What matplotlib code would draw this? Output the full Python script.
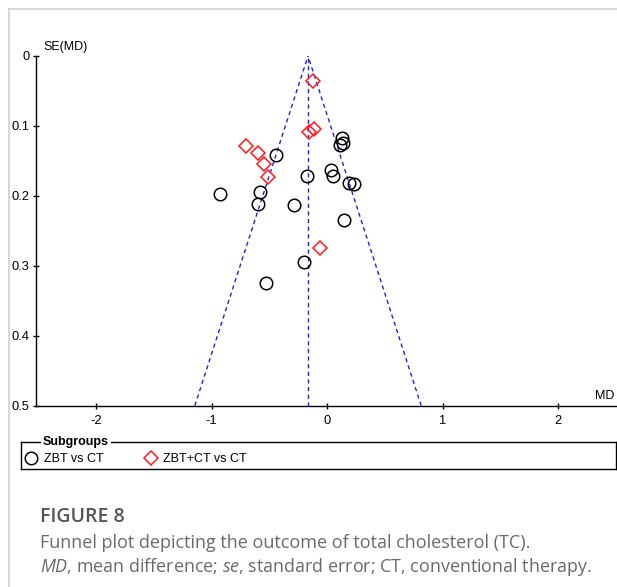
import matplotlib
matplotlib.use("Agg")
import matplotlib.pyplot as plt
from matplotlib.lines import Line2D

plt.rcParams['font.family'] = ['Liberation Sans', 'DejaVu Sans']
plt.rcParams['axes.unicode_minus'] = False
plt.rcParams['mathtext.fontset'] = 'custom'
plt.rcParams['mathtext.it'] = 'Open Sans:italic'
plt.rcParams['mathtext.rm'] = 'Open Sans'

# study estimates
zbt_md = [-0.93, -0.58, -0.60, -0.44, -0.29, -0.17, -0.20, -0.53,
          0.13, 0.14, 0.11, 0.03, 0.05, 0.19, 0.23, 0.15]
zbt_se = [0.198, 0.195, 0.211, 0.141, 0.213, 0.171, 0.295, 0.325,
          0.117, 0.124, 0.127, 0.163, 0.172, 0.181, 0.183, 0.235]

combo_md = [-0.12, -0.16, -0.11, -0.70, -0.60, -0.55, -0.51, -0.06]
combo_se = [0.036, 0.108, 0.105, 0.128, 0.138, 0.155, 0.173, 0.274]

pooled_md = -0.165
se_max = 0.5

x_ticks = [-2, -1, 0, 1, 2]
y_ticks = [0, 0.1, 0.2, 0.3, 0.4, 0.5]
y_labels = ['0', '0.1', '0.2', '0.3', '0.4', '0.5']

W, H = 617, 587
fig = plt.figure(figsize=(W / 100, H / 100), dpi=100)

# outer frame of the figure panel
fig.add_artist(Line2D([9 / W, 9 / W], [0, 1 - 9 / H], color='#d0d0d0', lw=1.2,
                      transform=fig.transFigure))
fig.add_artist(Line2D([9 / W, 1], [1 - 9 / H, 1 - 9 / H], color='#d0d0d0', lw=1.2,
                      transform=fig.transFigure))

ax = fig.add_axes([36 / W, 1 - 405.7 / H, 1 - 36 / W, (405.7 - 56) / H])

# funnel (pseudo 95% limits) and pooled estimate
dash = (0, (3, 2.5))
ax.plot([pooled_md - 1.96 * se_max, pooled_md], [se_max, 0], color='#1f1fe6', lw=1, ls=dash)
ax.plot([pooled_md + 1.96 * se_max, pooled_md], [se_max, 0], color='#1f1fe6', lw=1, ls=dash)
ax.plot([pooled_md, pooled_md], [se_max, 0], color='#1f1fe6', lw=1, ls=dash)

ax.plot(zbt_md, zbt_se, ls='none', marker='o', ms=9, mfc='none', mec='black', mew=1.1)
ax.plot(combo_md, combo_se, ls='none', marker='D', ms=7.5, mfc='none', mec='#ff1a1a', mew=1.1)

ax.set_xlim(-2.52, 2.51)
ax.set_ylim(0.5, 0)
ax.set_xticks(x_ticks)
ax.set_yticks(y_ticks)
ax.set_yticklabels(y_labels)
ax.tick_params(direction='inout', length=5, width=1, labelsize=9.3, pad=2)
ax.tick_params(axis='x', pad=4.5)
for s in ['top', 'right']:
    ax.spines[s].set_visible(False)
for s in ['left', 'bottom']:
    ax.spines[s].set_linewidth(1)
ax.text(44 / W - 36 / W, 1.025, 'SE(MD)', transform=ax.transAxes, fontsize=9,
        ha='left', va='center')
ax.text(0.995, 0.012, 'MD', transform=ax.transAxes, fontsize=9, ha='right', va='bottom')

# legend box with title sitting on the border
lax = fig.add_axes([21 / W, 1 - 469 / H, (616 - 21) / W, 27.5 / H])
lax.set_xticks([])
lax.set_yticks([])
for s in lax.spines.values():
    s.set_linewidth(1)
handles = [Line2D([], [], ls='none', marker='o', ms=9, mfc='none', mec='black', mew=1.1),
           Line2D([], [], ls='none', marker='D', ms=7.5, mfc='none', mec='#ff1a1a', mew=1.1)]
lax.legend(handles, ['ZBT vs CT', 'ZBT+CT vs CT'], loc='lower left', bbox_to_anchor=(-0.012, -0.28),
           ncol=2, frameon=False, fontsize=9, handlelength=1.0, handletextpad=0.5,
           columnspacing=3.3)
fig.text(43 / W, 1 - 441.5 / H, 'Subgroups', fontsize=9, fontweight='bold', ha='left', va='center',
         bbox=dict(fc='white', ec='none', pad=1.2))

# caption
fig.text(40 / W, 1 - 522 / H, 'FIGURE 8', family='Open Sans', fontweight='semibold',
         fontsize=14, color='#555555', va='baseline')
fig.text(40 / W, 1 - 547.5 / H, 'Funnel plot depicting the outcome of total cholesterol (TC).',
         family='Open Sans', fontsize=13, color='#6a6a6a', va='baseline')
fig.text(40 / W, 1 - 572.5 / H,
         r'$\it{MD}$, mean difference; $\it{se}$, standard error; CT, conventional therapy.',
         family='Open Sans', fontsize=12.9, color='#6a6a6a', va='baseline')

fig.savefig('out.png', dpi=100)
